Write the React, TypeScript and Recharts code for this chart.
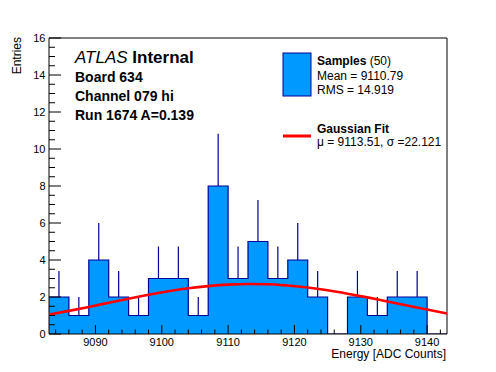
import { ComposedChart, Area, Line, Scatter, ErrorBar, XAxis, YAxis, ReferenceArea } from "recharts";

// bin edges (20 bins, 3 ADC counts wide) and entries per bin
const binLow = [9083, 9086, 9089, 9092, 9095, 9098, 9101, 9104, 9107, 9110, 9113, 9116, 9119, 9122, 9125, 9128, 9131, 9134, 9137, 9140];
const binEntries = [2, 1, 4, 2, 1, 3, 3, 1, 8, 3, 5, 3, 4, 2, 0, 2, 1, 2, 2, 0];
const binErrors = [1.41, 1, 2, 1.41, 1, 1.73, 1.73, 1, 2.83, 1.73, 2.24, 1.73, 2, 1.41, 0, 1.41, 1, 1.41, 1.41, 0];

// gaussian fit curve
const fitX = [9083, 9086, 9089, 9092, 9095, 9098, 9101, 9104, 9107, 9110, 9113, 9116, 9119, 9122, 9125, 9128, 9131, 9134, 9137, 9140, 9143];
const fitY = [1.05, 1.25, 1.46, 1.69, 1.91, 2.12, 2.31, 2.47, 2.59, 2.67, 2.70, 2.69, 2.62, 2.51, 2.36, 2.18, 1.98, 1.76, 1.54, 1.32, 1.11];

const xTicks = [9084, 9086, 9088, 9090, 9092, 9094, 9096, 9098, 9100, 9102, 9104, 9106, 9108, 9110, 9112, 9114, 9116, 9118, 9120, 9122, 9124, 9126, 9128, 9130, 9132, 9134, 9136, 9138, 9140, 9142];
const yTicks = [0, 0.5, 1, 1.5, 2, 2.5, 3, 3.5, 4, 4.5, 5, 5.5, 6, 6.5, 7, 7.5, 8, 8.5, 9, 9.5, 10, 10.5, 11, 11.5, 12, 12.5, 13, 13.5, 14, 14.5, 15, 15.5, 16];

const FONT = "'Liberation Sans', Arial, Helvetica, sans-serif";
const FILL = "#0099ff";
const EDGE = "#000099";

const histData = [
    ...binLow.map((x, i) => ({ x, n: binEntries[i] })),
    { x: 9143, n: 0 },
];
const errData = binLow
    .map((x, i) => ({ x: x + 1.5, n: binEntries[i], err: [0, binErrors[i]] }))
    .filter(d => d.n > 0);
const fitData = fitX.map((x, i) => ({ x, y: fitY[i] }));

const XTick = (props: any) => {
    const { x, y, payload } = props;
    const major = payload.value % 10 === 0;
    return (
        <g>
            <line x1={x} x2={x} y1={y} y2={y - (major ? 9 : 4.5)} stroke="#000" />
            {major && (
                <text x={x} y={y + 12} textAnchor="middle" fontSize={11} fontFamily={FONT} fill="#000">
                    {payload.value}
                </text>
            )}
        </g>
    );
};

const YTick = (props: any) => {
    const { x, y, payload } = props;
    const major = payload.value % 2 === 0;
    return (
        <g>
            <line x1={x} x2={x + (major ? 12 : 6)} y1={y} y2={y} stroke="#000" />
            {major && (
                <text x={x - 3.5} y={y + 4} textAnchor="end" fontSize={11} fontFamily={FONT} fill="#000">
                    {payload.value}
                </text>
            )}
        </g>
    );
};

export default function App() {
    return (
        <div style={{ position: "absolute", left: 0, top: 0, width: 496, height: 372, background: "#fff" }}>
            <ComposedChart width={496} height={372} margin={{ top: 38, right: 49, bottom: 8, left: 4 }}>
                <XAxis dataKey="x" type="number" domain={[9083, 9143]} ticks={xTicks} interval={0}
                    height={30} tickSize={0} tickMargin={0} axisLine={false} tickLine={false} tick={<XTick />}
                    allowDataOverflow />
                <YAxis type="number" domain={[0, 16]} ticks={yTicks} interval={0}
                    width={45} tickSize={0} tickMargin={0} axisLine={false} tickLine={false} tick={<YTick />}
                    allowDataOverflow />
                <Area data={histData} dataKey="n" type="stepAfter" fill={FILL} fillOpacity={1}
                    stroke={EDGE} strokeWidth={1.2} isAnimationActive={false} />
                <Scatter data={errData} dataKey="n" shape={() => <g />} isAnimationActive={false}>
                    <ErrorBar dataKey="err" direction="y" width={0} stroke={EDGE} strokeWidth={1.2} />
                </Scatter>
                <Line data={fitData} dataKey="y" type="monotone" stroke="#ff0000" strokeWidth={2.6}
                    dot={false} isAnimationActive={false} />
                <ReferenceArea x1={9083} x2={9143} y1={0} y2={16} fill="none" stroke="#000" strokeWidth={1} />
            </ComposedChart>
            <svg width={496} height={372} style={{ position: "absolute", left: 0, top: 0, pointerEvents: "none" }}
                fontFamily={FONT}>
                <text x={75} y={63} fontSize={17}>
                    <tspan fontStyle="italic">ATLAS</tspan>
                    <tspan fontWeight="bold"> Internal</tspan>
                </text>
                <text x={75} y={82} fontSize={14} fontWeight="bold">Board 634</text>
                <text x={75} y={101} fontSize={14} fontWeight="bold">Channel 079 hi</text>
                <text x={75} y={120} fontSize={14} fontWeight="bold">Run 1674 A=0.139</text>

                <rect x={283} y={53} width={28} height={43} fill={FILL} stroke={EDGE} strokeWidth={1} />
                <text x={317} y={65} fontSize={12}>
                    <tspan fontWeight="bold">Samples</tspan>
                    <tspan> (50)</tspan>
                </text>
                <text x={317} y={80} fontSize={12}>Mean = 9110.79</text>
                <text x={317} y={94} fontSize={12}>RMS = 14.919</text>
                <line x1={283} x2={311} y1={136} y2={136} stroke="#ff0000" strokeWidth={3} />
                <text x={317} y={133} fontSize={12} fontWeight="bold">Gaussian Fit</text>
                <text x={317} y={146} fontSize={12}>μ = 9113.51, σ =22.121</text>

                <text transform="translate(21,37) rotate(-90)" textAnchor="end" fontSize={12}>Entries</text>
                <text x={446} y={358} textAnchor="end" fontSize={12}>Energy [ADC Counts]</text>
            </svg>
        </div>
    );
}
